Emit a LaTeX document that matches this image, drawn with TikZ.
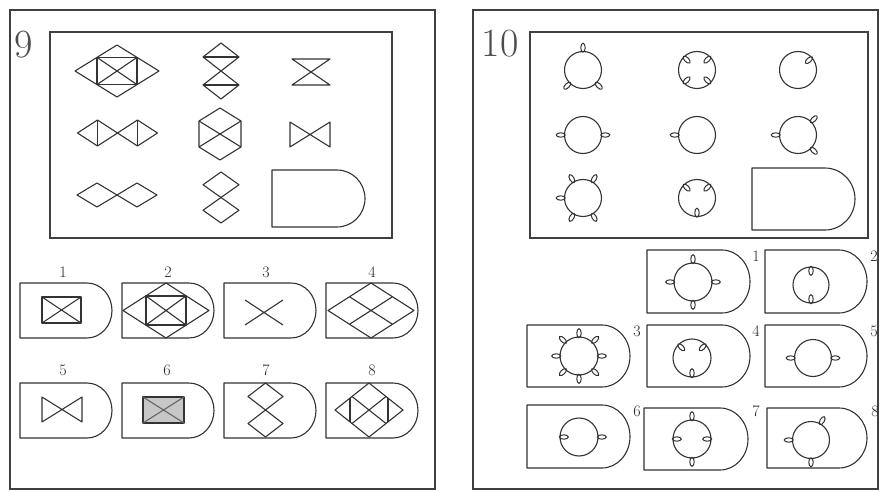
\documentclass[tikz,border=0pt]{standalone}
\begin{document}
\tikzset{
  fig/.style={draw=black!80,line width=1.1pt,line join=round},
  tabst/.style={draw=black!80,line width=1pt},
  frame/.style={draw=black!75,line width=1.3pt},
  lbl/.style={font=\fontsize{16}{16}\selectfont,text=black!85,inner sep=0pt},
  big/.style={font=\fontsize{40}{40}\selectfont,text=black!70,inner sep=0pt}
}
\newcommand\dshp[5]{\draw[fig] (#1,#2) -- ({#1+#3-#5},#2) arc[start angle=-90,end angle=90,x radius=#5,y radius={#4/2}] -- (#1,{#2+#4}) -- cycle;}
\newcommand\diam[4]{\draw[fig] ({#1-#3},#2) -- (#1,{#2-#4}) -- ({#1+#3},#2) -- (#1,{#2+#4}) -- cycle;}
\newcommand\rng[3]{\draw[fig] (#1,#2) circle (#3);}
\newcommand\tabo[4]{\draw[tabst,shift={(#1,#2)},rotate=#4] ({#3+3.8},0) ellipse (4.5 and 2.2);}
\newcommand\tabi[4]{\draw[tabst,shift={(#1,#2)},rotate=#4] ({#3-3.8},0) ellipse (4.5 and 2.2);}
\begin{tikzpicture}[x=1pt,y=-1pt]
\useasboundingbox (0,0) rectangle (884,492);
\fill[white] (0,0) rectangle (884,492);
% ================= LEFT PANEL (9) =================
\draw[frame] (10,10) rectangle (435,489);
\node[big] (n9) at (24,45) {9};
\draw[frame] (50,32) rectangle (392,238);
% row 1
\diam{117}{71}{42}{26}
\draw[fig] (97,57.4) rectangle (137,84.6);
\draw[fig] (97,57.4) -- (137,84.6) (97,84.6) -- (137,57.4);
\diam{221}{57}{18}{14}
\diam{221}{85}{18}{14}
\draw[fig] (203,57) -- (239,57) (203,85) -- (239,85);
\draw[fig] (292,59) -- (330,59) -- (292,85) -- (330,85) -- cycle;
% row 2
\diam{97.5}{133}{20}{13}
\diam{137.5}{133}{20}{13}
\draw[fig] (97.5,120) -- (97.5,146) (137.5,120) -- (137.5,146);
\draw[fig] (220,108) -- (241,121) -- (241,147) -- (220,160) -- (199,147) -- (199,121) -- cycle;
\draw[fig] (199,121) -- (241,147) (241,121) -- (199,147);
\draw[fig] (290,122) -- (330,147) -- (330,122) -- (290,147) -- cycle;
% row 3
\diam{97}{195}{20}{12}
\diam{137}{195}{20}{12}
\diam{221}{184.75}{18}{12.75}
\diam{221}{210.25}{18}{12.75}
\dshp{272}{170}{93}{57}{28}
% options row 1
\node[lbl] (l1) at (63,272) {1};
\node[lbl] (l2) at (168,272) {2};
\node[lbl] (l3) at (266,272) {3};
\node[lbl] (l4) at (372,272) {4};
\dshp{20}{283}{92}{55}{25}
\dshp{122}{283}{92}{55}{25}
\dshp{224}{283}{92}{55}{25}
\dshp{326}{283}{92}{55}{25}
% opt 1
\draw[fig] (42,297) rectangle (81,323);
\draw[fig] (42,297) -- (81,323) (42,323) -- (81,297);
% opt 2
\diam{166}{310.5}{43}{27.5}
\draw[fig] (146,296) rectangle (186,325);
\draw[fig] (146,296) -- (186,325) (146,325) -- (186,296);
% opt 3
\draw[fig] (245,300) -- (283,325) (283,300) -- (245,325);
% opt 4
\diam{371}{310.5}{43}{27.5}
\draw[fig] (349.5,296.75) -- (392.5,324.25) (392.5,296.75) -- (349.5,324.25);
% options row 2
\node[lbl] (l5) at (63,370) {5};
\node[lbl] (l6) at (167,370) {6};
\node[lbl] (l7) at (266,370) {7};
\node[lbl] (l8) at (372,370) {8};
\dshp{20}{383}{92}{55}{25}
\dshp{122}{383}{92}{55}{25}
\dshp{224}{383}{92}{55}{25}
\dshp{326}{383}{92}{55}{25}
% opt 5
\draw[fig] (42,397) -- (82,422) -- (82,397) -- (42,422) -- cycle;
% opt 6
\draw[fig,fill=black!22] (143,397) rectangle (184,423);
\draw[fig,draw=black!60] (143,397) -- (184,423) (143,423) -- (184,397);
% opt 7
\diam{265.5}{396.5}{17.5}{13.5}
\diam{265.5}{423.5}{17.5}{13.5}
% opt 8
\diam{369}{410}{34}{27}
\draw[fig] (352,396.5) -- (386,423.5) (386,396.5) -- (352,423.5);
\draw[fig] (350,398) -- (350,422) (388,398) -- (388,422);
% ================= RIGHT PANEL (10) =================
\draw[frame] (473,10) rectangle (878,489);
\node[big] (n10) at (500,44) {10};
\draw[frame] (530,32) rectangle (868,238);
% row 1
\rng{583}{70}{18.5}
\tabo{583}{70}{18.5}{90} \tabo{583}{70}{18.5}{225} \tabo{583}{70}{18.5}{315}
\rng{697}{70}{18.5}
\tabi{697}{70}{18.5}{45} \tabi{697}{70}{18.5}{135} \tabi{697}{70}{18.5}{225} \tabi{697}{70}{18.5}{315}
\rng{798}{70}{18.5}
\tabi{798}{70}{18.5}{42}
% row 2
\rng{583}{135}{18.5}
\tabo{583}{135}{18.5}{0} \tabo{583}{135}{18.5}{180}
\rng{697}{135}{18.5}
\tabo{697}{135}{18.5}{180}
\rng{798}{135}{18.5}
\tabo{798}{135}{18.5}{180} \tabo{798}{135}{18.5}{45} \tabo{798}{135}{18.5}{315}
% row 3
\rng{583}{198}{18.5}
\tabo{583}{198}{18.5}{60} \tabo{583}{198}{18.5}{120} \tabo{583}{198}{18.5}{180} \tabo{583}{198}{18.5}{240} \tabo{583}{198}{18.5}{300}
\rng{697}{198}{18.5}
\tabi{697}{198}{18.5}{45} \tabi{697}{198}{18.5}{135} \tabi{697}{198}{18.5}{270}
\dshp{752}{168}{103}{62}{30}
% options
\node[lbl] (r1) at (756,256) {1};
\node[lbl] (r2) at (874,256) {2};
\node[lbl] (r3) at (637,331) {3};
\node[lbl] (r4) at (756,331) {4};
\node[lbl] (r5) at (874,331) {5};
\node[lbl] (r6) at (637,411) {6};
\node[lbl] (r7) at (756,411) {7};
\node[lbl] (r8) at (875,411) {8};
\dshp{647}{250}{103}{63}{28}
\dshp{765}{250}{102}{63}{28}
\dshp{527}{325}{103}{62}{28}
\dshp{647}{325}{103}{62}{28}
\dshp{765}{325}{102}{62}{28}
\dshp{527}{405}{103}{63}{28}
\dshp{644}{408}{104}{62}{28}
\dshp{767}{408}{100}{60}{28}
% opt 1
\rng{693}{282}{19}
\tabo{693}{282}{19}{0} \tabo{693}{282}{19}{90} \tabo{693}{282}{19}{180} \tabo{693}{282}{19}{270}
% opt 2
\rng{811}{285}{18}
\tabi{811}{285}{18}{90} \tabi{811}{285}{18}{270}
% opt 3
\rng{579}{356}{19}
\foreach \a in {0,45,...,315} {\tabo{579}{356}{19}{\a}}
% opt 4
\rng{692}{358}{19}
\tabi{692}{358}{19}{45} \tabi{692}{358}{19}{135} \tabi{692}{358}{19}{270}
% opt 5
\rng{813}{358}{18.5}
\tabo{813}{358}{18.5}{0} \tabo{813}{358}{18.5}{180}
% opt 6
\rng{579}{437}{19}
\tabi{579}{437}{19}{180} \tabo{579}{437}{19}{0}
% opt 7
\rng{692}{439}{19}
\tabo{692}{439}{19}{90} \tabo{692}{439}{19}{270} \tabi{692}{439}{19}{0} \tabi{692}{439}{19}{180}
% opt 8
\rng{811}{440}{18.5}
\tabo{811}{440}{18.5}{180} \tabo{811}{440}{18.5}{60} \tabo{811}{440}{18.5}{270}
\end{tikzpicture}
\end{document}
